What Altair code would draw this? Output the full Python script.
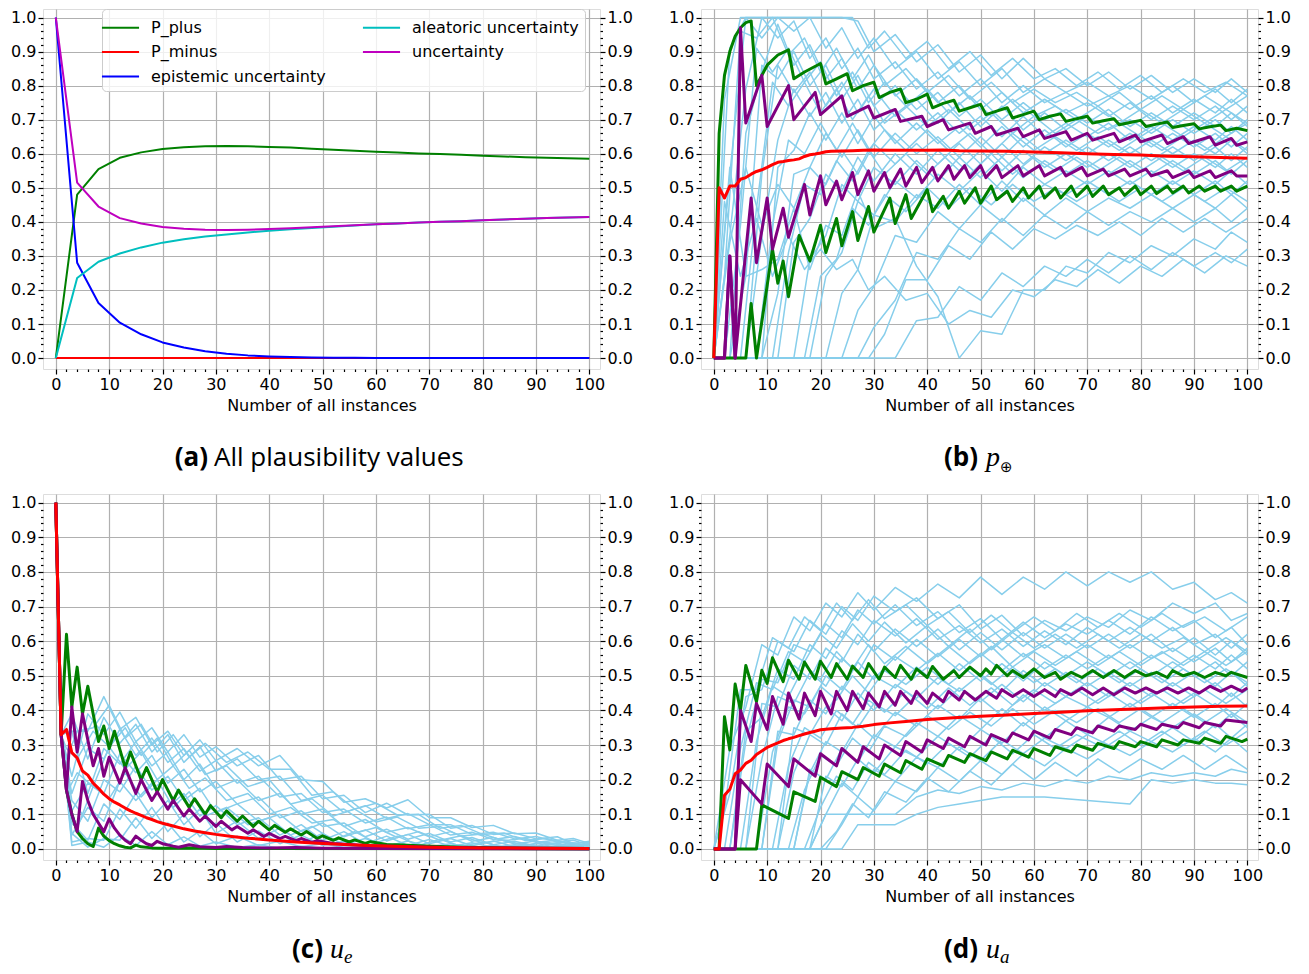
import altair as alt
import pandas as pd

FONT = "DejaVu Sans"
CAP_FONT = "Open Sans"
MATH_FONT = "Liberation Serif"
SKY, GREEN, PURPLE, RED = "#87ceeb", "#008000", "#800080", "#ff0000"

W = 557
H_TOP, H_BOT = 360, 366
X_DOMAIN = [-2.4, 102.0]
Y_DOMAIN = [-0.032, 1.025]

X_TICKS = [0, 2, 4, 6, 8, 10, 12, 14, 16, 18, 20, 22, 24, 26, 28, 30, 32, 34, 36, 38, 40, 42, 44, 46, 48, 50,
           52, 54, 56, 58, 60, 62, 64, 66, 68, 70, 72, 74, 76, 78, 80, 82, 84, 86, 88, 90, 92, 94, 96, 98, 100]
Y_TICKS = [0.0, 0.02, 0.04, 0.06, 0.08, 0.1, 0.12, 0.14, 0.16, 0.18, 0.2, 0.22, 0.24, 0.26, 0.28, 0.3, 0.32,
           0.34, 0.36, 0.38, 0.4, 0.42, 0.44, 0.46, 0.48, 0.5, 0.52, 0.54, 0.56, 0.58, 0.6, 0.62, 0.64, 0.66, 0.68, 0.7,
           0.72, 0.74, 0.76, 0.78, 0.8, 0.82, 0.84, 0.86, 0.88, 0.9, 0.92, 0.94, 0.96, 0.98, 1.0]

# ---------------- panel (a) ----------------
A_X = [0, 4, 8, 12, 16, 20, 24, 28, 32, 36, 40, 44, 48, 52, 56, 60, 64, 68, 72, 76, 80, 84, 88, 92, 96, 100]
A_P_PLUS = [0, .48, .555, .588, .604, .614, .619, .622, .623, .622, .620, .618, .615, .612, .609, .606, .604, .601,
            .599, .597, .594, .592, .590, .588, .587, .585]
A_P_MINUS = [0, 0, 0, 0, 0, 0, 0, 0, 0, 0, 0, 0, 0, 0, 0, 0, 0, 0, 0, 0, 0, 0, 0, 0, 0, 0]
A_EPI = [1.0, .28, .162, .104, .07, .046, .031, .02, .013, .008, .005, .003, .002, .001, .001, 0, 0, 0, 0, 0, 0, 0,
         0, 0, 0, 0]
A_ALEA = [0, .235, .283, .307, .325, .339, .349, .357, .363, .369, .374, .378, .382, .386, .389, .393, .395, .398,
          .400, .402, .405, .407, .409, .411, .413, .414]
A_UNC = [1.0, .515, .445, .411, .395, .385, .380, .377, .376, .377, .379, .381, .384, .387, .390, .393, .395, .398,
         .400, .402, .405, .407, .409, .411, .413, .414]
A_NAMES = ["P_plus", "P_minus", "epistemic uncertainty", "aleatoric uncertainty", "uncertainty"]
A_COLORS = ["#008000", "#ff0000", "#0000ff", "#00bfbf", "#bf00bf"]

# ---------------- sky-blue sample paths ----------------
GRID_BD = [0, 3, 6, 9, 12, 15, 18, 21, 24, 27, 30, 34, 38, 42, 46, 50, 54, 58, 62, 66, 70, 74, 78, 82, 86, 90, 94, 97, 100]
GRID_BD_ALT = [0, 2, 5, 8, 11, 14, 17, 20, 23, 26, 29, 32, 36, 40, 44, 48, 52, 56, 60, 64, 68, 72, 76, 80, 84, 88, 92, 96, 100]
GRID_C = [0, 1, 3, 6, 9, 12, 15, 18, 21, 24, 27, 30, 34, 38, 42, 46, 50, 54, 58, 62, 66, 70, 74, 78, 82, 86, 90, 94, 97, 100]
GRID_C_ALT = [0, 1, 2, 4, 7, 10, 13, 16, 19, 22, 25, 28, 32, 36, 40, 44, 48, 52, 56, 60, 64, 68, 72, 76, 80, 84, 88, 92, 96, 100]

B_SKY_01 = [0, .91, 1, 1, 1, 1, 1, 1, 1, .99, .90, .95, .87, .92, .84, .89, .82, .88, .82, .85, .80, .84, .79, .83, .78, .82, .78, .82, .78]
B_SKY_02 = [0, .54, 1, .94, 1, .96, 1, .91, .97, .88, .94, .85, .90, .82, .87, .80, .85, .78, .82, .78, .81, .77, .80, .76, .80, .75, .79, .75, .79]
B_SKY_03 = [0, .36, .79, 1, .94, .99, .88, .94, .85, .91, .82, .87, .79, .84, .77, .82, .75, .80, .75, .78, .74, .77, .73, .77, .72, .76, .72, .76, .72]
B_SKY_04 = [0, 0, .66, .84, .98, .86, .92, .82, .88, .79, .86, .77, .82, .75, .80, .73, .78, .72, .76, .72, .75, .71, .75, .70, .74, .70, .74, .70, .74]
B_SKY_05 = [0, 0, .24, .86, .82, .90, .80, .86, .76, .83, .74, .80, .73, .78, .71, .76, .70, .75, .70, .73, .69, .73, .68, .72, .68, .72, .68, .72, .68]
B_SKY_06 = [0, 0, 0, .54, .86, .78, .84, .74, .81, .72, .79, .71, .76, .69, .75, .68, .74, .67, .72, .67, .71, .67, .70, .66, .70, .66, .70, .66, .70]
B_SKY_07 = [0, 0, 0, .36, .64, .79, .71, .78, .69, .76, .67, .73, .67, .72, .66, .71, .65, .71, .65, .69, .65, .69, .64, .68, .64, .68, .64, .68, .64]
B_SKY_08 = [0, 0, 0, 0, .56, .61, .72, .64, .72, .63, .71, .63, .69, .63, .68, .62, .68, .62, .67, .62, .66, .62, .66, .62, .66, .62, .66, .62, .66]
B_SKY_09 = [0, 0, 0, 0, .19, .54, .56, .66, .59, .67, .59, .66, .60, .65, .59, .65, .59, .65, .60, .64, .60, .64, .60, .64, .60, .64, .60, .64, .60]
B_SKY_10 = [0, .34, .56, .39, .51, .44, .56, .51, .61, .54, .63, .57, .63, .57, .63, .57, .63, .57, .62, .58, .62, .58, .62, .58, .62, .58, .62, .58, .62]
B_SKY_11 = [0, 0, 0, 0, 0, .34, .41, .54, .49, .59, .52, .60, .54, .61, .55, .61, .55, .61, .56, .60, .56, .60, .56, .60, .56, .60, .56, .60, .56]
B_SKY_12 = [0, 0, 0, 0, 0, 0, .29, .36, .51, .46, .56, .51, .58, .52, .59, .53, .59, .53, .58, .54, .58, .54, .58, .54, .58, .54, .58, .54, .58]
B_SKY_13 = [0, 0, 0, 0, 0, 0, 0, .24, .31, .46, .42, .52, .47, .54, .49, .55, .49, .56, .51, .55, .51, .55, .51, .55, .51, .55, .51, .55, .51]
B_SKY_14 = [0, 0, 0, 0, 0, 0, 0, 0, .19, .26, .42, .40, .48, .44, .51, .45, .52, .46, .51, .48, .52, .48, .52, .48, .52, .48, .52, .48, .52]
B_SKY_15 = [0, 0, 0, 0, 0, 0, 0, 0, 0, .14, .21, .36, .34, .43, .38, .45, .40, .47, .42, .47, .43, .47, .44, .48, .44, .48, .44, .48, .44]
B_SKY_16 = [0, 0, 0, 0, 0, 0, 0, 0, 0, 0, .09, .17, .31, .29, .38, .34, .41, .36, .42, .38, .43, .39, .43, .40, .44, .40, .44, .40, .44]
B_SKY_17 = [0, .56, .24, .26, .29, .44, .26, .39, .36, .49, .38, .41, .27, .18, 0, .08, .07, .20, .20, .27, .25, .31, .28, .33, .30, .35, .32, .37, .34]
B_SKY_18 = [0, 0, 0, 0, 0, 0, 0, 0, 0, 0, 0, 0, .11, .12, .21, .17, .25, .21, .27, .24, .29, .25, .30, .26, .31, .27, .31, .28, .32]
# on GRID_BD_ALT
B_SKY_19 = [0, .76, 1, 1, 1, 1, 1, 1, 1, 1, .91, .96, .88, .93, .85, .90, .83, .88, .82, .85, .80, .84, .79, .83, .78, .82, .78, .81, .77]
B_SKY_20 = [0, .24, .96, .94, 1, .89, .94, .84, .91, .82, .89, .80, .85, .78, .83, .76, .81, .75, .79, .75, .78, .74, .78, .73, .77, .73, .77, .73, .77]
B_SKY_21 = [0, 0, .39, .91, .84, .91, .81, .87, .77, .84, .75, .81, .74, .79, .72, .77, .71, .76, .71, .74, .70, .74, .69, .73, .69, .73, .69, .73, .69]
B_SKY_22 = [0, 0, 0, .44, .81, .74, .81, .72, .79, .70, .77, .69, .74, .68, .73, .67, .72, .66, .71, .66, .70, .66, .69, .65, .69, .65, .69, .65, .69]
B_SKY_23 = [0, 0, 0, 0, .39, .64, .60, .69, .61, .69, .61, .67, .61, .67, .61, .66, .60, .66, .61, .65, .61, .65, .61, .65, .61, .65, .61, .65, .61]
B_SKY_24 = [0, 0, 0, 0, 0, .31, .51, .48, .58, .52, .61, .54, .60, .54, .60, .54, .60, .54, .59, .55, .59, .55, .59, .55, .59, .55, .59, .55, .59]
B_SKY_25 = [0, 0, 0, 0, 0, 0, 0, .24, .29, .44, .39, .48, .43, .50, .44, .50, .45, .51, .46, .50, .46, .50, .46, .50, .46, .50, .46, .50, .46]
B_SKY_26 = [0, 0, 0, 0, 0, 0, 0, 0, 0, 0, 0, .07, .23, .23, .33, .29, .37, .32, .38, .35, .39, .36, .40, .36, .41, .37, .41, .37, .41]
B_SKY_27 = [0, .46, .24, .41, .24, .36, .26, .32, .26, .29, .20, .24, .17, .19, .10, .14, .12, .20, .18, .23, .21, .26, .22, .27, .24, .29, .25, .30, .27]

C_SKY_01 = [1, .33, .34, .34, .44, .345, .38, .30, .34, .27, .315, .255, .29, .24, .27, .20, .195, .135, .145, .118, .142, .09, .09, .062, .068, .044, .046, .025, .03, .016]
C_SKY_02 = [1, .33, .21, .39, .33, .395, .31, .35, .28, .33, .265, .295, .24, .27, .20, .21, .145, .155, .105, .132, .098, .10, .06, .068, .042, .046, .029, .035, .015, .022]
C_SKY_03 = [1, .33, .39, .26, .38, .305, .36, .28, .33, .25, .295, .225, .26, .20, .21, .14, .155, .105, .125, .088, .102, .07, .07, .042, .048, .029, .036, .02, .025, .011]
C_SKY_04 = [1, .33, .16, .29, .26, .345, .27, .32, .25, .29, .225, .255, .19, .21, .15, .16, .105, .115, .075, .092, .058, .07, .04, .048, .027, .036, .019, .025, .010, .016]
C_SKY_05 = [1, .33, .34, .16, .29, .245, .31, .24, .28, .20, .245, .175, .20, .14, .16, .10, .115, .065, .085, .048, .062, .035, .05, .022, .033, .014, .023, .01, .017, .006]
C_SKY_06 = [1, .33, .11, .19, .16, .275, .22, .27, .19, .23, .165, .195, .13, .15, .09, .11, .065, .075, .035, .057, .028, .045, .02, .033, .012, .022, .008, .017, .005, .012]
C_SKY_07 = [1, .33, .14, .08, .20, .165, .24, .17, .21, .14, .175, .105, .13, .08, .10, .05, .075, .035, .055, .023, .042, .015, .03, .009, .023, .006, .016, .004, .013, .003]
C_SKY_08 = [1, .33, .04, .12, .08, .195, .14, .19, .12, .16, .095, .125, .07, .09, .04, .07, .025, .05, .015, .037, .01, .027, .008, .018, .005, .012, .004, .009, .003, .006]
C_SKY_09 = [1, .33, .075, .025, .13, .085, .16, .09, .14, .07, .115, .045, .08, .03, .06, .018, .045, .012, .03, .008, .023, .006, .015, .004, .01, .003, .008, .002, .005, .001]
C_SKY_10 = [1, .33, .02, .03, .025, .115, .06, .12, .05, .10, .035, .075, .02, .052, .015, .04, .01, .022, .006, .015, .004, .01, .003, .008, .002, .005, .001, .003, .001, .003]
C_SKY_11 = [1, .33, .045, .005, .03, .025, .09, .03, .075, .02, .052, .015, .037, .01, .022, .006, .015, .004, .009, .002, .006, .001, .004, .001, .002, 0, .001, 0, .001, 0]
C_SKY_12 = [1, .33, .01, .02, .005, .04, .01, .05, .012, .035, .008, .02, .004, .012, .002, .008, .001, .004, 0, .002, 0, .001, 0, 0, 0, 0, 0, 0, 0, 0]
# on GRID_C_ALT
C_SKY_13 = [1, .33, .26, .34, .35, .415, .32, .36, .28, .33, .265, .305, .25, .28, .23, .23, .155, .165, .115, .132, .098, .10, .06, .068, .042, .046, .024, .03, .015, .019]
C_SKY_14 = [1, .33, .29, .26, .34, .295, .35, .27, .32, .24, .285, .215, .24, .18, .20, .13, .145, .095, .115, .078, .092, .06, .065, .037, .043, .024, .031, .015, .02, .008]
C_SKY_15 = [1, .33, .16, .22, .18, .295, .23, .28, .20, .24, .175, .205, .14, .16, .10, .12, .075, .085, .045, .062, .033, .05, .025, .038, .017, .026, .01, .019, .007, .014]
C_SKY_16 = [1, .33, .16, .06, .18, .145, .22, .15, .20, .12, .165, .095, .12, .07, .09, .04, .065, .025, .05, .018, .037, .01, .028, .007, .02, .004, .014, .003, .011, .002]

D_SKY_01 = [0, .29, .41, .59, .56, .67, .63, .71, .67, .74, .69, .755, .715, .765, .725, .785, .735, .785, .75, .80, .76, .80, .77, .80, .75, .77, .72, .74, .71]
D_SKY_02 = [0, .16, .44, .46, .60, .57, .66, .62, .70, .66, .73, .685, .725, .665, .705, .635, .675, .615, .66, .63, .67, .64, .69, .66, .71, .68, .71, .66, .68]
D_SKY_03 = [0, 0, .31, .49, .48, .59, .57, .65, .61, .69, .65, .705, .645, .685, .625, .665, .605, .655, .61, .65, .62, .66, .62, .67, .63, .66, .61, .64, .59]
D_SKY_04 = [0, 0, .34, .38, .52, .49, .59, .55, .63, .59, .66, .615, .665, .605, .645, .595, .635, .585, .63, .59, .64, .60, .64, .60, .64, .59, .62, .58, .62]
D_SKY_05 = [0, 0, 0, .42, .41, .53, .49, .58, .54, .62, .57, .635, .585, .635, .575, .625, .575, .625, .58, .62, .58, .62, .58, .62, .57, .61, .56, .60, .56]
D_SKY_06 = [0, 0, 0, .26, .44, .42, .51, .47, .55, .51, .59, .545, .605, .555, .605, .555, .605, .555, .59, .55, .59, .55, .59, .55, .58, .54, .58, .54, .58]
D_SKY_07 = [0, 0, 0, 0, .31, .43, .41, .50, .46, .54, .49, .555, .515, .565, .515, .565, .515, .565, .52, .56, .52, .56, .52, .56, .52, .56, .52, .56, .52]
D_SKY_08 = [0, 0, 0, 0, .34, .33, .43, .39, .47, .43, .50, .465, .525, .475, .535, .485, .535, .485, .54, .50, .54, .50, .54, .50, .54, .50, .54, .50, .54]
D_SKY_09 = [0, 0, 0, 0, 0, .35, .33, .41, .37, .45, .40, .475, .435, .495, .455, .505, .455, .515, .47, .51, .47, .51, .47, .51, .47, .51, .47, .51, .47]
D_SKY_10 = [0, 0, 0, 0, 0, .22, .33, .30, .39, .35, .42, .385, .445, .405, .465, .425, .475, .425, .48, .44, .48, .44, .48, .44, .48, .44, .48, .44, .48]
D_SKY_11 = [0, 0, 0, 0, 0, 0, .22, .31, .28, .36, .32, .395, .355, .415, .375, .435, .385, .445, .40, .44, .41, .45, .41, .45, .41, .45, .41, .45, .41]
D_SKY_12 = [0, 0, 0, 0, 0, 0, .23, .20, .29, .25, .33, .295, .365, .325, .385, .345, .405, .355, .41, .37, .41, .38, .42, .38, .42, .38, .42, .38, .42]
D_SKY_13 = [0, 0, 0, 0, 0, 0, 0, .21, .18, .26, .22, .295, .265, .325, .285, .345, .305, .365, .32, .37, .33, .38, .34, .38, .35, .39, .35, .39, .35]
D_SKY_14 = [0, 0, 0, 0, 0, 0, 0, .10, .19, .15, .23, .195, .265, .235, .295, .255, .315, .275, .32, .29, .33, .30, .34, .31, .35, .31, .36, .32, .36]
D_SKY_15 = [0, 0, 0, 0, 0, 0, 0, 0, .07, .15, .11, .195, .165, .235, .195, .255, .215, .275, .24, .29, .26, .30, .27, .31, .28, .32, .28, .32, .28]
D_SKY_16 = [0, 0, 0, 0, 0, 0, 0, .1, .1, .1, .1, .1, .15, .17, .16, .18, .17, .19, .18, .2, .19, .21, .2, .22, .21, .22, .21, .23, .22]
D_SKY_17 = [0, 0, 0, 0, 0, 0, 0, 0, 0, .07, .07, .07, .1, .12, .13, .14, .15, .15, .15, .145, .14, .135, .13, .2, .19, .2, .19, .19, .185]
# on GRID_BD_ALT
D_SKY_18 = [0, .11, .46, .46, .61, .58, .67, .63, .71, .66, .72, .665, .705, .645, .685, .625, .675, .625, .67, .63, .68, .64, .68, .64, .68, .64, .67, .63, .67]
D_SKY_19 = [0, 0, .29, .48, .46, .57, .54, .62, .58, .65, .60, .655, .595, .645, .585, .635, .575, .625, .58, .62, .58, .62, .58, .62, .58, .61, .57, .61, .57]
D_SKY_20 = [0, 0, 0, .31, .47, .44, .53, .49, .57, .52, .59, .535, .585, .535, .585, .535, .585, .525, .57, .53, .57, .53, .57, .53, .57, .53, .57, .53, .57]
D_SKY_21 = [0, 0, 0, 0, .28, .41, .39, .47, .43, .50, .45, .515, .475, .525, .475, .525, .475, .525, .48, .52, .48, .52, .48, .52, .48, .52, .48, .52, .48]
D_SKY_22 = [0, 0, 0, 0, 0, .24, .35, .32, .40, .36, .43, .395, .455, .405, .465, .415, .465, .415, .46, .42, .46, .42, .46, .42, .46, .42, .46, .42, .46]
D_SKY_23 = [0, 0, 0, 0, 0, 0, .17, .27, .24, .32, .28, .355, .325, .385, .345, .395, .355, .405, .36, .40, .365, .405, .365, .405, .365, .405, .365, .405, .365]
D_SKY_24 = [0, 0, 0, 0, 0, 0, 0, .12, .21, .17, .25, .215, .285, .245, .305, .265, .325, .275, .33, .29, .33, .30, .34, .30, .34, .30, .34, .30, .34]
D_SKY_25 = [0, 0, 0, 0, 0, 0, 0, 0, .05, .13, .09, .165, .135, .205, .165, .225, .185, .245, .20, .25, .21, .26, .22, .26, .23, .27, .23, .27, .23]

# ---------------- highlighted paths: (instances, value) ----------------
GU_B = [(0, 0), (1, .66), (2, .83), (3, .90), (4, .945), (5, .97), (6, .985), (7, .99), (8, .80), (10, .86), (12, .89),
        (14, .905), (15, .82), (17, .84), (20, .865), (21, .805), (23, .82), (25, .835), (26, .785), (28, .80), (30, .81),
        (31, .765), (33, .78), (35, .79), (36, .75), (38, .76), (40, .775), (41, .735), (43, .748), (45, .757), (46, .725),
        (48, .735), (50, .745), (51, .715), (53, .725), (55, .735), (56, .705), (58, .715), (60, .725), (61, .70), (63, .71),
        (65, .717), (66, .695), (68, .703), (70, .71), (71, .69), (73, .697), (75, .703), (76, .685), (78, .692), (80, .698),
        (81, .68), (83, .687), (85, .693), (86, .677), (88, .683), (90, .688), (91, .673), (93, .679), (95, .684), (96, .668),
        (98, .675), (100, .668)]
GL_B = [(0, 0), (6, 0), (7, .16), (8, 0), (11, .32), (12, .22), (13, .285), (14, .18), (16, .36), (18, .285), (20, .39),
        (21, .31), (23, .41), (24, .33), (26, .43), (27, .345), (29, .445), (30, .37), (33, .47), (34, .395), (36, .48),
        (37, .41), (40, .495), (41, .43), (43, .475), (44, .44), (46, .49), (47, .455), (49, .50), (50, .455), (52, .505),
        (53, .465), (55, .49), (56, .46), (58, .50), (59, .47), (61, .505), (62, .47), (64, .50), (65, .47), (67, .505),
        (68, .475), (70, .505), (71, .475), (73, .505), (74, .48), (76, .50), (77, .478), (79, .505), (80, .48), (82, .505),
        (83, .483), (85, .505), (86, .485), (88, .505), (89, .485), (91, .505), (92, .49), (94, .505), (95, .49), (97, .505),
        (98, .49), (100, .505)]
PU_B = [(0, 0), (2, 0), (3, .30), (4, 0), (5, .97), (6, .69), (9, .83), (10, .68), (14, .80), (15, .70), (19, .78),
        (20, .715), (24, .77), (25, .71), (29, .74), (30, .705), (34, .73), (35, .695), (39, .71), (40, .68), (43, .70),
        (44, .67), (48, .69), (49, .66), (52, .68), (53, .655), (57, .675), (58, .65), (61, .67), (62, .645), (66, .665),
        (67, .64), (70, .66), (71, .64), (75, .66), (76, .635), (79, .655), (80, .635), (84, .655), (85, .63), (88, .65),
        (89, .63), (93, .65), (94, .625), (97, .645), (98, .625), (100, .635)]
PL_B = [(0, 0), (2, 0), (3, .30), (4, 0), (7, .47), (8, .28), (10, .47), (11, .32), (13, .44), (14, .355), (17, .51),
        (18, .42), (20, .535), (21, .45), (23, .52), (24, .465), (26, .545), (27, .48), (29, .55), (30, .49), (32, .545),
        (33, .50), (35, .555), (36, .505), (38, .56), (39, .515), (41, .56), (42, .52), (44, .565), (45, .525), (47, .565),
        (48, .53), (50, .565), (51, .53), (53, .565), (54, .53), (57, .565), (58, .535), (61, .565), (62, .535), (65, .56),
        (66, .535), (69, .56), (70, .535), (73, .555), (74, .535), (77, .555), (78, .535), (81, .555), (82, .535), (85, .55),
        (86, .53), (89, .55), (90, .53), (93, .55), (94, .53), (97, .55), (98, .535), (100, .535)]
RED_B = [(0, 0), (1, .50), (2, .47), (3, .505), (4, .505), (5, .525), (6, .53), (7, .54), (8, .548), (9, .553), (10, .56),
         (11, .568), (12, .575), (13, .577), (14, .58), (15, .582), (16, .585), (17, .592), (18, .597), (19, .599), (20, .602),
         (21, .606), (22, .607), (24, .608), (26, .609), (28, .61), (30, .611), (33, .61), (36, .61), (40, .61), (43, .611),
         (46, .609), (50, .608), (55, .607), (60, .605), (65, .603), (70, .60), (75, .598), (80, .596), (85, .593),
         (90, .591), (95, .589), (100, .587)]

GU_C = [(0, 1), (1, .33), (2, .62), (3, .41), (4, .525), (5, .39), (6, .47), (8, .31), (9, .355), (10, .29), (11, .34),
        (13, .235), (14, .28), (16, .20), (17, .235), (19, .165), (20, .20), (22, .14), (23, .17), (25, .12), (26, .145),
        (28, .10), (29, .125), (31, .09), (32, .11), (34, .08), (35, .095), (37, .065), (38, .08), (40, .055), (41, .068),
        (43, .048), (44, .058), (46, .04), (47, .05), (49, .03), (50, .038), (52, .025), (53, .032), (55, .02), (56, .026),
        (58, .016), (59, .021), (62, .013), (65, .011), (68, .009), (72, .007), (76, .005), (80, .004), (85, .003),
        (90, .002), (100, .001)]
GL_C = [(0, 1), (1, .33), (2, .17), (3, .10), (4, .05), (5, .03), (6, .015), (7, .007), (8, .06), (9, .037), (10, .024),
        (11, .015), (12, .009), (13, .005), (14, .003), (15, .011), (16, .006), (18, .003), (20, .002), (25, .003),
        (30, .001), (40, .001), (100, 0)]
PU_C = [(0, 1), (1, .33), (2, .17), (3, .41), (4, .28), (5, .39), (7, .24), (8, .29), (9, .21), (10, .265), (12, .19),
        (13, .235), (15, .16), (16, .20), (18, .14), (19, .165), (21, .115), (22, .14), (24, .095), (25, .115), (27, .08),
        (28, .095), (30, .065), (31, .08), (33, .055), (34, .065), (36, .045), (37, .055), (39, .036), (40, .045), (42, .03),
        (43, .036), (45, .024), (46, .03), (48, .019), (49, .024), (52, .016), (55, .013), (58, .01), (62, .008), (66, .006),
        (70, .005), (75, .004), (80, .003), (90, .002), (100, .001)]
PL_C = [(0, 1), (1, .33), (2, .17), (3, .10), (4, .05), (5, .195), (6, .14), (7, .10), (8, .075), (9, .05), (10, .087),
        (11, .06), (12, .04), (13, .025), (14, .015), (15, .037), (16, .025), (17, .015), (18, .01), (19, .022), (20, .015),
        (22, .008), (23, .005), (25, .012), (27, .006), (30, .004), (32, .007), (35, .004), (40, .003), (45, .004),
        (50, .002), (60, .001), (100, 0)]
RED_C = [(0, 1), (1, .33), (2, .345), (3, .278), (4, .263), (5, .225), (6, .213), (7, .19), (8, .175), (9, .158), (10, .145),
         (11, .135), (12, .127), (13, .118), (14, .11), (15, .103), (16, .097), (17, .09), (18, .085), (19, .079), (20, .074),
         (22, .066), (24, .058), (26, .052), (28, .047), (30, .042), (33, .036), (36, .031), (40, .026), (45, .02),
         (50, .016), (55, .012), (60, .009), (65, .007), (70, .005), (80, .003), (90, .002), (100, .001)]

GU_D = [(0, 0), (1, 0), (2, .382), (3, .286), (4, .476), (5, .40), (6, .53), (8, .425), (9, .516), (10, .478), (11, .552),
        (13, .483), (14, .545), (16, .49), (17, .54), (19, .49), (20, .542), (22, .495), (23, .535), (25, .49), (26, .528),
        (28, .495), (29, .535), (31, .49), (32, .525), (34, .495), (35, .53), (37, .49), (38, .52), (40, .495), (41, .527),
        (43, .49), (45, .515), (46, .495), (48, .525), (50, .50), (51, .52), (52, .505), (53, .53), (55, .50), (56, .515),
        (58, .495), (60, .52), (62, .495), (64, .51), (65, .49), (67, .51), (69, .495), (71, .515), (73, .495), (75, .515),
        (77, .495), (79, .515), (81, .50), (83, .51), (85, .495), (86, .515), (88, .50), (90, .51), (92, .495), (94, .51),
        (96, .50), (97, .51), (100, .495)]
GL_D = [(0, 0), (8, 0), (9, .127), (14, .088), (15, .165), (19, .137), (20, .207), (23, .18), (24, .223), (27, .20),
        (28, .235), (31, .21), (32, .245), (35, .22), (36, .255), (39, .23), (40, .26), (43, .24), (44, .27), (47, .25),
        (48, .275), (51, .255), (52, .28), (55, .26), (56, .285), (59, .265), (60, .29), (63, .27), (64, .295), (67, .28),
        (68, .30), (71, .285), (72, .305), (75, .29), (76, .31), (79, .295), (80, .31), (83, .295), (84, .315), (87, .30),
        (88, .315), (91, .305), (92, .32), (95, .305), (96, .325), (99, .31), (100, .317)]
PU_D = [(0, 0), (4, 0), (5, .40), (7, .31), (8, .42), (10, .345), (11, .44), (13, .36), (14, .45), (16, .375), (17, .45),
        (19, .385), (20, .455), (22, .39), (23, .455), (25, .40), (26, .455), (28, .405), (29, .45), (31, .41), (32, .455),
        (34, .415), (35, .455), (37, .42), (38, .455), (40, .42), (41, .45), (43, .425), (44, .455), (46, .43), (47, .455),
        (49, .43), (51, .455), (53, .435), (54, .46), (56, .44), (58, .46), (60, .44), (62, .46), (64, .44), (65, .46),
        (67, .445), (69, .465), (71, .445), (73, .465), (75, .445), (77, .465), (79, .45), (81, .465), (83, .45), (85, .465),
        (87, .45), (89, .465), (91, .45), (93, .47), (95, .455), (97, .47), (99, .455), (100, .465)]
PL_D = [(0, 0), (4, 0), (5, .20), (9, .13), (10, .245), (14, .18), (15, .26), (19, .21), (20, .275), (23, .24), (24, .29),
        (27, .25), (28, .295), (31, .26), (32, .30), (35, .27), (36, .31), (39, .28), (40, .315), (43, .29), (44, .32),
        (47, .295), (48, .325), (51, .30), (52, .33), (55, .31), (56, .335), (59, .315), (60, .34), (63, .32), (64, .345),
        (67, .33), (68, .35), (71, .335), (72, .355), (75, .34), (76, .355), (79, .345), (80, .36), (83, .345), (84, .36),
        (87, .35), (88, .365), (91, .35), (92, .365), (95, .355), (96, .372), (100, .365)]
RED_D = [(0, 0), (1, 0), (2, .155), (3, .172), (4, .217), (5, .228), (6, .247), (7, .256), (8, .273), (9, .283), (10, .293),
         (11, .30), (12, .306), (13, .313), (14, .318), (15, .322), (16, .327), (17, .332), (18, .336), (19, .34), (20, .344),
         (22, .347), (24, .349), (26, .351), (28, .354), (30, .359), (33, .364), (36, .368), (40, .374), (45, .379),
         (50, .383), (55, .387), (60, .391), (65, .395), (70, .399), (75, .402), (80, .405), (85, .408), (90, .41),
         (95, .412), (100, .413)]

# ---------------- captions: (text, x, y, font, size, weight, style, align) ----------------
TOP_BASE, BOT_BASE = 457, 464
CAP_A = [("(a)", 165, TOP_BASE, CAP_FONT, 26, "bold", "normal", "right"),
         ("All plausibility values", 171, TOP_BASE, CAP_FONT, 26, "normal", "normal", "left")]
CAP_B = [("(b)", 277, TOP_BASE, CAP_FONT, 26, "bold", "normal", "right"),
         ("p", 285, TOP_BASE, MATH_FONT, 28, "normal", "italic", "left"),
         ("\u2295", 299, TOP_BASE + 6, FONT, 15, "normal", "normal", "left")]
CAP_C = [("(c)", 280, BOT_BASE, CAP_FONT, 26, "bold", "normal", "right"),
         ("u", 287, BOT_BASE, MATH_FONT, 28, "normal", "italic", "left"),
         ("e", 301, BOT_BASE + 5, MATH_FONT, 19, "normal", "italic", "left")]
CAP_D = [("(d)", 277, BOT_BASE, CAP_FONT, 26, "bold", "normal", "right"),
         ("u", 285, BOT_BASE, MATH_FONT, 28, "normal", "italic", "left"),
         ("a", 299, BOT_BASE + 5, MATH_FONT, 19, "normal", "italic", "left")]


# ---------------- build tables ----------------
def grid_df(grid, lines, prefix):
    rows = []
    for i, ys in enumerate(lines):
        assert len(ys) == len(grid), (prefix, i, len(ys), len(grid))
        for x, y in zip(grid, ys):
            rows.append({"x": x, "y": y, "line": "%s%02d" % (prefix, i)})
    return pd.DataFrame(rows)


def pairs_df(named):
    rows = []
    for name, pts in named:
        for x, y in pts:
            rows.append({"x": x, "y": y, "line": name})
    return pd.DataFrame(rows)


A_SERIES = [A_P_PLUS, A_P_MINUS, A_EPI, A_ALEA, A_UNC]
DF_A = pd.DataFrame([{"x": x, "y": y, "series": n}
                     for n, ys in zip(A_NAMES, A_SERIES) for x, y in zip(A_X, ys)])

SKY_B = pd.concat([
    grid_df(GRID_BD, [B_SKY_01, B_SKY_02, B_SKY_03, B_SKY_04, B_SKY_05, B_SKY_06, B_SKY_07, B_SKY_08, B_SKY_09,
                      B_SKY_10, B_SKY_11, B_SKY_12, B_SKY_13, B_SKY_14, B_SKY_15, B_SKY_16, B_SKY_17, B_SKY_18], "a"),
    grid_df(GRID_BD_ALT, [B_SKY_19, B_SKY_20, B_SKY_21, B_SKY_22, B_SKY_23, B_SKY_24, B_SKY_25, B_SKY_26,
                          B_SKY_27], "b")])
SKY_C = pd.concat([
    grid_df(GRID_C, [C_SKY_01, C_SKY_02, C_SKY_03, C_SKY_04, C_SKY_05, C_SKY_06, C_SKY_07, C_SKY_08, C_SKY_09,
                     C_SKY_10, C_SKY_11, C_SKY_12], "a"),
    grid_df(GRID_C_ALT, [C_SKY_13, C_SKY_14, C_SKY_15, C_SKY_16], "b")])
SKY_D = pd.concat([
    grid_df(GRID_BD, [D_SKY_01, D_SKY_02, D_SKY_03, D_SKY_04, D_SKY_05, D_SKY_06, D_SKY_07, D_SKY_08, D_SKY_09,
                      D_SKY_10, D_SKY_11, D_SKY_12, D_SKY_13, D_SKY_14, D_SKY_15, D_SKY_16, D_SKY_17], "a"),
    grid_df(GRID_BD_ALT, [D_SKY_18, D_SKY_19, D_SKY_20, D_SKY_21, D_SKY_22, D_SKY_23, D_SKY_24, D_SKY_25], "b")])

# ---------------- axes ----------------
X_MAJOR_TEST = "datum.value % 10 === 0"
Y_MAJOR_TEST = "round(datum.value * 100) % 10 === 0"
AX_COMMON = dict(labelFont=FONT, labelFontSize=16, labelColor="black", tickColor="black", tickWidth=1.2,
                 domain=False, labelPadding=2, labelOverlap=False, labelFlush=False)

XAX = alt.Axis(values=X_TICKS,
               labelExpr=f"{X_MAJOR_TEST} ? format(datum.value, 'd') : ''",
               tickSize={"condition": {"test": X_MAJOR_TEST, "value": 5}, "value": 2.5},
               gridOpacity={"condition": {"test": X_MAJOR_TEST, "value": 1}, "value": 0},
               gridColor="#b0b0b0", gridWidth=1.2,
               title="Number of all instances", titleFont=FONT, titleFontSize=16, titleColor="black",
               titleFontWeight="normal", titlePadding=5, **AX_COMMON)
YAX_L = alt.Axis(values=Y_TICKS,
                 labelExpr=f"{Y_MAJOR_TEST} ? format(datum.value, '.1f') : ''",
                 tickSize={"condition": {"test": Y_MAJOR_TEST, "value": 5}, "value": 2.5},
                 gridOpacity={"condition": {"test": Y_MAJOR_TEST, "value": 1}, "value": 0},
                 gridColor="#b0b0b0", gridWidth=1.2, **AX_COMMON)
YAX_R = alt.Axis(orient="right", grid=False, values=Y_TICKS,
                 labelExpr=f"{Y_MAJOR_TEST} ? format(datum.value, '.1f') : ''",
                 tickSize={"condition": {"test": Y_MAJOR_TEST, "value": 5}, "value": 2.5},
                 **AX_COMMON)

XS = alt.Scale(domain=X_DOMAIN, nice=False, zero=False)
YS = alt.Scale(domain=Y_DOMAIN, nice=False, zero=False)


def xenc():
    return alt.X("x:Q", scale=XS, axis=XAX)


def yenc(axis):
    return alt.Y("y:Q", scale=YS, axis=axis, title=None)


def line_layer(df, color, width, axis=None):
    return alt.Chart(df).mark_line(color=color, strokeWidth=width, strokeJoin="round").encode(
        x=xenc(), y=yenc(axis), detail="line:N")


def caption_layers(parts):
    out = []
    for text, x, y, font, size, weight, style, align in parts:
        out.append(alt.Chart(pd.DataFrame({"t": [text]})).mark_text(
            font=font, fontSize=size, fontWeight=weight, fontStyle=style, align=align,
            baseline="alphabetic", color="black").encode(text="t:N", x=alt.value(x), y=alt.value(y)))
    return out


RIGHT_DF = pd.DataFrame({"y": [0.0, 1.0]})


def panel(data_layers, caps, height):
    right = alt.Chart(RIGHT_DF).mark_point(opacity=0).encode(y=yenc(YAX_R))
    return alt.layer(*data_layers, right, *caption_layers(caps)).resolve_axis(y="independent").properties(
        width=W, height=height)


# ---------------- panel (a) ----------------
CS_A = alt.Scale(domain=A_NAMES, range=A_COLORS)
LEG_A = alt.Legend(title=None, orient="none", legendX=59, legendY=0, columns=2,
                   symbolType="M-1.65,0H1.65", symbolSize=506, symbolStrokeWidth=2, symbolOpacity=1,
                   labelFont=FONT, labelFontSize=16, labelColor="black", labelOffset=18, labelLimit=400,
                   rowPadding=3.5, columnPadding=32, padding=6, fillColor="rgba(255,255,255,0.8)",
                   strokeColor="#cccccc", cornerRadius=4)


def a_layer(name, axis=None):
    return alt.Chart(DF_A).transform_filter(alt.datum.series == name).mark_line(
        strokeWidth=2, strokeJoin="round").encode(
        x=xenc(), y=yenc(axis), color=alt.Color("series:N", scale=CS_A, legend=LEG_A))


panel_a = panel([a_layer(A_NAMES[0], YAX_L)] + [a_layer(n) for n in A_NAMES[1:]], CAP_A, H_TOP)

panel_b = panel([
    line_layer(SKY_B, SKY, 1.5, YAX_L),
    line_layer(pairs_df([("gu", GU_B), ("gl", GL_B)]), GREEN, 3),
    line_layer(pairs_df([("pu", PU_B), ("pl", PL_B)]), PURPLE, 3),
    line_layer(pairs_df([("r", RED_B)]), RED, 3),
], CAP_B, H_TOP)

panel_c = panel([
    line_layer(SKY_C, SKY, 1.5, YAX_L),
    line_layer(pairs_df([("gu", GU_C), ("gl", GL_C)]), GREEN, 3),
    line_layer(pairs_df([("pu", PU_C), ("pl", PL_C)]), PURPLE, 3),
    line_layer(pairs_df([("r", RED_C)]), RED, 3),
], CAP_C, H_BOT)

panel_d = panel([
    line_layer(SKY_D, SKY, 1.5, YAX_L),
    line_layer(pairs_df([("gu", GU_D), ("gl", GL_D)]), GREEN, 3),
    line_layer(pairs_df([("pu", PU_D), ("pl", PL_D)]), PURPLE, 3),
    line_layer(pairs_df([("r", RED_D)]), RED, 3),
], CAP_D, H_BOT)

top = alt.hconcat(panel_a, panel_b, spacing=35)
bottom = alt.hconcat(panel_c, panel_d, spacing=35)

chart = alt.vconcat(top, bottom, spacing=17).properties(
    padding={"left": 2, "top": 0, "right": 5, "bottom": 0}
).configure_view(stroke="black", strokeWidth=1.2).configure(background="white")

chart.save("out.html", embed_options={"renderer": "svg", "actions": False})
